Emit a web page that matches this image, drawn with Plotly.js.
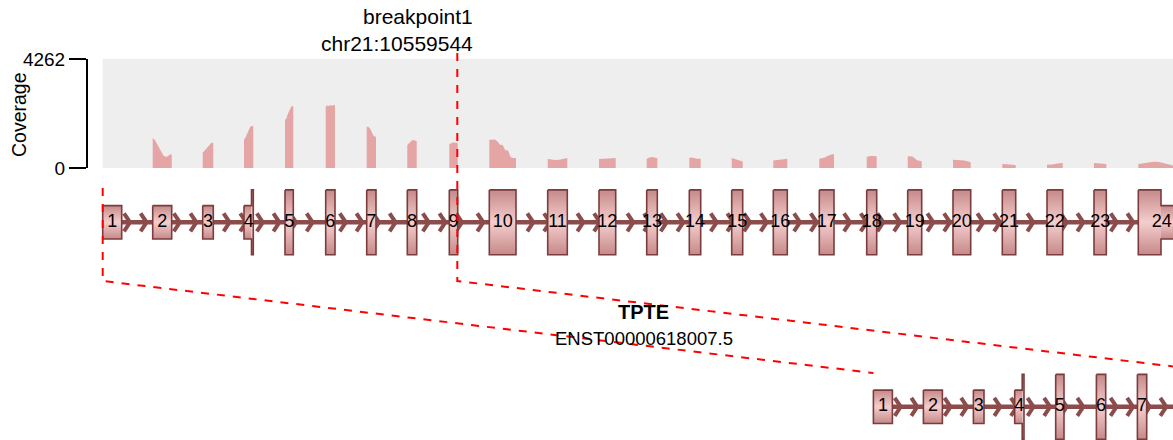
<!DOCTYPE html>
<html><head><meta charset="utf-8">
<script src="https://cdn.plot.ly/plotly-3.0.1.min.js"></script>
<style>html,body{margin:0;padding:0;background:#fff}#chart{width:1173px;height:440px}</style>
</head><body><div id="chart"></div>
<script>
// ---------------- data ----------------
const geneName = 'TPTE';
const transcriptId = 'ENST00000618007.5';
const breakpointLabel = 'breakpoint1';
const breakpointCoord = 'chr21:10559544';
const coverageMax = 4262;
const coverageTicks = [0, 4262];

const exonNumbers = ['1','2','3','4','5','6','7','8','9','10','11','12','13','14','15','16','17','18','19','20','21','22','23','24'];
const exonStart = [102.7,152.7,202.7,244,285,325.7,366.7,407.3,449.3,489.3,547.7,599,646.7,689.3,731.7,773.3,819.3,866.7,907.7,953,1002.3,1047,1094,1138.3];
const exonEnd   = [121.7,171.7,213.3,253.3,293.3,335,376,416.7,457.7,516,567.3,615.7,657.3,700.7,742.7,787.3,834,876.7,921.7,970.7,1015.7,1062.7,1106.3,1185];
const codingStart = 251.5;
const codingEnd = 1161;
const breakpointPos = 457.3;
const strandArrows = [130,146.6,179.8,196.4,229.6,246.2,262.8,279.4,296,312.6,345.8,362.4,379,395.6,428.8,445.4,462,483.3,533.3,550,583.3,600,633.3,650,666.7,683.3,716.7,733.3,750,766.7,800,816.7,850,866.7,883.3,900,933.3,950,983.3,1000,1033.3,1066.7,1083.3,1116.7,1133.3];

// coverage samples per exon, left to right
const coverage = [
  [],
  [1160,1100,950,800,650,500,440,450,520,540],
  [600,680,760,850,930,990,990],
  [1095,1200,1350,1500,1600,1640,1640],
  [1875,1950,2100,2250,2350,2425,2425],
  [2400,2440,2420,2450,2430,2460,2440],
  [1615,1600,1560,1450,1300,1230,1225],
  [900,980,1050,1095,1080,1060],
  [930,980,1000,990,990,990],
  [1107,1107,1110,1050,910,900,690,690,420,391,391],
  [350,330,310,320,360,390],
  [350,360,380,390,390],
  [365,420,420,380],
  [405,400,365,365],
  [390,350,280,255],
  [290,320,350,365],
  [365,400,500,550],
  [430,470,470,460],
  [455,450,300,260],
  [325,320,290,220],
  [155,150,130,120],
  [130,135,180,195],
  [195,190,170,160],
  [160,190,225,245,235,200,140,80,60,50]
];

// ---------------- layout constants ----------------
const W = 1173, H = 440;
const FONT = 'Liberation Sans, Arial, Helvetica, sans-serif';
const upperY = 222.3, lowerY = 406.8;
const shortHalf = 16.7, tallHalf = 32.4;
const lowerShift = 770.7;
const covTop = 59, covBottom = 168;
const axisX = 87;
const arrowDx = 6, arrowDy = 9;
const backboneColor = '#8c4c4c';
const outlineColor = '#7a3c3c';
const exonScale = [[0,'#c68989'],[0.5,'#f5cdcd'],[1,'#c68989']];

// ---------------- build traces ----------------
const traces = [];

// coverage
const covX = [], covY = [];
exonStart.forEach((s, i) => {
  const e = exonEnd[i], v = coverage[i];
  covX.push(s); covY.push(0);
  if (v.length) {
    v.forEach((val, k) => {
      covX.push(s + (e - s) * k / (v.length - 1));
      covY.push(val);
    });
  }
  covX.push(e); covY.push(0);
});
traces.push({type:'scatter', mode:'lines', x:covX, y:covY, xaxis:'x', yaxis:'y',
  fill:'tozeroy', fillcolor:'#e5a5a5', line:{width:0, color:'#e5a5a5'}, hoverinfo:'skip', showlegend:false});

function pieces(s, e) {
  if (e <= codingStart || s >= codingEnd) return [[s, e, shortHalf]];
  const a = Math.max(s, codingStart), b = Math.min(e, codingEnd);
  const out = [];
  if (s < a) out.push([s, a, shortHalf]);
  out.push([a, b, tallHalf]);
  if (b < e) out.push([b, e, shortHalf]);
  return out;
}

function transcript(yc, shift, limit) {
  const idx = exonStart.map((s, i) => i).filter(i => exonStart[i] < limit);
  const lastEnd = Math.min(exonEnd[idx[idx.length - 1]], limit);
  // backbone
  traces.push({type:'scatter', mode:'lines', x:[exonStart[0] + shift, lastEnd + shift], y:[yc, yc],
    xaxis:'x', yaxis:'y2', line:{color:backboneColor, width:4.5}, hoverinfo:'skip', showlegend:false});
  // strand arrows
  const ax = [], ay = [];
  strandArrows.filter(t => t < limit).forEach(t => {
    ax.push(t + shift - arrowDx, t + shift, t + shift - arrowDx, null);
    ay.push(yc - arrowDy, yc, yc + arrowDy, null);
  });
  traces.push({type:'scatter', mode:'lines', x:ax, y:ay, xaxis:'x', yaxis:'y2',
    line:{color:backboneColor, width:4}, hoverinfo:'skip', showlegend:false});
  // exon fills
  const fills = {};
  fills[shortHalf] = {x:[], y:[]};
  fills[tallHalf] = {x:[], y:[]};
  const ox = [], oy = [];
  const lx = [], ly = [], lt = [];
  idx.forEach(i => {
    const s = exonStart[i], e = exonEnd[i];
    const ps = pieces(s, e);
    ps.forEach(([x0, x1, h]) => {
      const f = fills[h];
      f.x.push(x0 + shift, x1 + shift, x1 + shift, x0 + shift, x0 + shift, null);
      f.y.push(yc - h, yc - h, yc + h, yc + h, yc - h, null);
    });
    // union outline
    const top = [], bot = [];
    ps.forEach(([x0, x1, h]) => { top.push([x0, yc - h], [x1, yc - h]); });
    ps.slice().reverse().forEach(([x0, x1, h]) => { bot.push([x1, yc + h], [x0, yc + h]); });
    const poly = top.concat(bot);
    poly.push(poly[0]);
    poly.forEach(p => { ox.push(p[0] + shift); oy.push(p[1]); });
    ox.push(null); oy.push(null);
    const cx = (s + e) / 2 + shift;
    if (cx < W - 8) { lx.push(cx); ly.push(yc); lt.push(exonNumbers[i]); }
  });
  [shortHalf, tallHalf].forEach(h => {
    traces.push({type:'scatter', mode:'lines', x:fills[h].x, y:fills[h].y, xaxis:'x', yaxis:'y2',
      fill:'toself', line:{width:0, color:'rgba(0,0,0,0)'},
      fillgradient:{type:'vertical', colorscale:exonScale, start:yc - h, stop:yc + h},
      hoverinfo:'skip', showlegend:false});
  });
  traces.push({type:'scatter', mode:'lines', x:ox, y:oy, xaxis:'x', yaxis:'y2',
    line:{color:outlineColor, width:1.6}, hoverinfo:'skip', showlegend:false});
  traces.push({type:'scatter', mode:'text', x:lx, y:ly, text:lt, xaxis:'x', yaxis:'y2',
    textposition:'middle center', textfont:{family:FONT, size:18, color:'#000'},
    cliponaxis:true, hoverinfo:'skip', showlegend:false});
}

transcript(upperY, 0, Infinity);
transcript(lowerY, lowerShift, breakpointPos);

// ---------------- shapes ----------------
const geneStart = exonStart[0];
const shapes = [
  {type:'rect', xref:'x', yref:'y', x0:geneStart, x1:W, y0:0, y1:coverageMax,
   fillcolor:'#eeeeee', line:{width:0}, layer:'below'},
  {type:'path', xref:'x', yref:'y2', layer:'above',
   path:`M ${geneStart} 188 L ${geneStart} 281 L ${geneStart + lowerShift} 373`,
   line:{color:'#ff0000', width:2, dash:'8px,8px'}},
  {type:'path', xref:'x', yref:'y2', layer:'above',
   path:`M ${breakpointPos} 53 L ${breakpointPos} 281 L ${breakpointPos + lowerShift} 373`,
   line:{color:'#ff0000', width:2, dash:'8px,8px'}}
];

const geneMid = (exonStart[0] + exonEnd[exonEnd.length - 1]) / 2;
const annotations = [
  {xref:'x', yref:'y2', x:breakpointPos + 18, y:16, xanchor:'right', yanchor:'middle', showarrow:false,
   text:breakpointLabel, font:{family:FONT, size:21, color:'#000'}},
  {xref:'x', yref:'y2', x:breakpointPos + 18, y:43, xanchor:'right', yanchor:'middle', showarrow:false,
   text:breakpointCoord, font:{family:FONT, size:21, color:'#000'}},
  {xref:'x', yref:'y2', x:19, y:115, xanchor:'center', yanchor:'middle', showarrow:false, textangle:-90,
   text:'Coverage', font:{family:FONT, size:19.5, color:'#000'}},
  {xref:'x', yref:'y2', x:geneMid, y:312, xanchor:'center', yanchor:'middle', showarrow:false,
   text:geneName, font:{family:FONT, size:20, color:'#000', weight:'bold'}},
  {xref:'x', yref:'y2', x:geneMid, y:338, xanchor:'center', yanchor:'middle', showarrow:false,
   text:transcriptId, font:{family:FONT, size:18.5, color:'#000'}}
];

const layout = {
  width:W, height:H, margin:{l:0, r:0, t:0, b:0, pad:0},
  paper_bgcolor:'#ffffff', plot_bgcolor:'rgba(0,0,0,0)', showlegend:false,
  font:{family:FONT, color:'#000'},
  xaxis:{range:[0, W], domain:[0, 1], visible:false, fixedrange:true},
  yaxis:{domain:[1 - covBottom / H, 1 - covTop / H], range:[0, coverageMax], anchor:'free', position:axisX / W,
    tickvals:coverageTicks, ticktext:coverageTicks.map(String), ticks:'outside', ticklen:17, tickwidth:2,
    tickcolor:'#000', showline:true, linecolor:'#000', linewidth:2, showgrid:false, zeroline:false,
    tickfont:{family:FONT, size:19, color:'#000'}, fixedrange:true},
  yaxis2:{domain:[0, 1], range:[H, 0], visible:false, anchor:'x', fixedrange:true},
  shapes:shapes, annotations:annotations, hovermode:false
};

Plotly.newPlot('chart', traces, layout, {staticPlot:true, displayModeBar:false});
</script>
</body></html>
